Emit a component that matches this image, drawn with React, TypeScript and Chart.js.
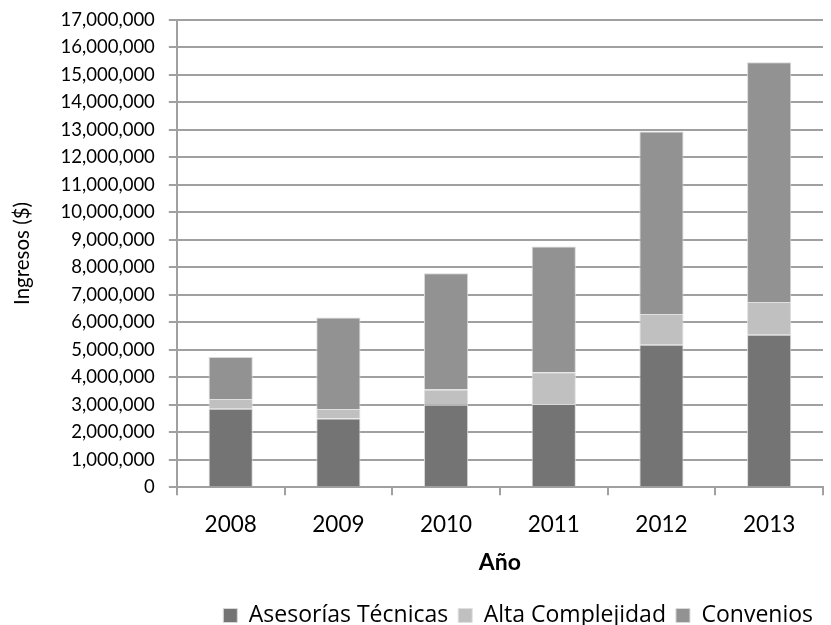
import React, { useEffect, useRef } from "react";
import { Chart, registerables } from "chart.js";

Chart.register(...registerables);

const years = ["2008", "2009", "2010", "2011", "2012", "2013"];
const asesorias = [2860000, 2500000, 3000000, 3030000, 5180000, 5550000];
const altaComplejidad = [350000, 350000, 560000, 1150000, 1120000, 1190000];
const convenios = [1530000, 3320000, 4220000, 4570000, 6630000, 8710000];

const FONT = "Lato, 'Liberation Sans', sans-serif";
const LEGEND_FONT = "'Open Sans', Lato, sans-serif";

export default function App() {
  const ref = useRef<HTMLCanvasElement | null>(null);
  useEffect(() => {
    document.body.style.margin = "0";
    if (!ref.current) return;
    const chart = new Chart(ref.current, {
      type: "bar",
      data: {
        labels: years,
        datasets: [
          { label: "Asesorías Técnicas", data: asesorias, backgroundColor: "#747474", borderColor: "#d8d8d8", borderWidth: 1 },
          { label: "Alta Complejidad", data: altaComplejidad, backgroundColor: "#c0c0c0", borderColor: "#e0e0e0", borderWidth: 1 },
          { label: "Convenios", data: convenios, backgroundColor: "#929292", borderColor: "#d8d8d8", borderWidth: 1 },
        ],
      },
      options: {
        responsive: false,
        animation: false,
        layout: { padding: { top: 2, right: 8, left: 6, bottom: -12 } },
        datasets: { bar: { categoryPercentage: 1, barPercentage: 0.41 } },
        plugins: {
          legend: {
            position: "bottom",
            align: "end",
            labels: { font: { family: LEGEND_FONT, size: 23 }, color: "#000", boxWidth: 14, boxHeight: 14, padding: 10 },
          },
          tooltip: { enabled: false },
        },
        scales: {
          x: {
            stacked: true,
            grid: { offset: true, drawOnChartArea: false, color: "#a0a0a0", tickLength: 8, lineWidth: 2 },
            border: { color: "#a0a0a0", width: 2 },
            ticks: { font: { family: FONT, size: 22.5, lineHeight: 0.98 }, color: "#000", padding: 18 },
            title: { display: true, text: "Año", font: { family: FONT, size: 23, weight: "bold" }, color: "#000", padding: { top: -5, bottom: 18 } },
          },
          y: {
            stacked: true,
            min: 0,
            max: 17000000,
            grid: { color: "#a0a0a0", lineWidth: 2, tickLength: 8 },
            border: { color: "#a0a0a0", width: 2 },
            ticks: {
              stepSize: 1000000,
              font: { family: FONT, size: 18.5, lineHeight: 0.6 },
              color: "#000",
              padding: 14,
              callback: (v: any) => Number(v).toLocaleString("en-US"),
            },
            title: { display: true, text: "Ingresos ($)", font: { family: FONT, size: 20.5 }, color: "#000", padding: { bottom: 12 } },
          },
        },
      },
    });
    return () => chart.destroy();
  }, []);
  return (
    <div style={{ width: 831, height: 625 }}>
      <canvas ref={ref} width={831} height={625} />
    </div>
  );
}
